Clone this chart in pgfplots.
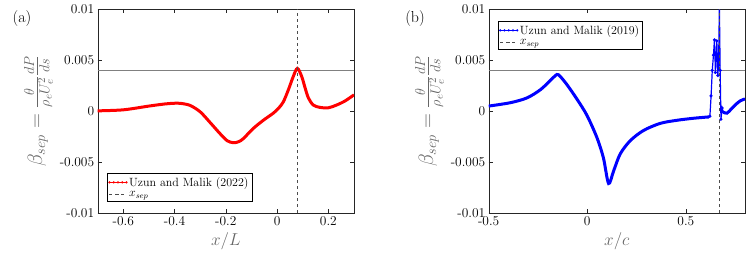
\documentclass[border=0pt]{standalone}
\usepackage{pgfplots}
\pgfplotsset{compat=1.18}
\usepackage{amsmath}
\begin{document}
\begin{tikzpicture}
\path[use as bounding box] (0,0) rectangle (747bp,255bp);
\pgfplotsset{
 myaxis/.style={
  scale only axis, width=256.3bp, height=203.7bp, anchor=south west,
  ymin=-0.01, ymax=0.01, scaled y ticks=false, scaled x ticks=false,
  ytick={-0.01,-0.005,0,0.005,0.01},
  yticklabels={-0.01,-0.005,0,0.005,0.01},
  tick align=inside,
  ticklabel style={font=\fontsize{13.5}{15}\selectfont},
  axis line style={black!85}, tick style={black!85},
  major tick length=4bp,
  xlabel style={font=\fontsize{16.5}{18}\selectfont, text=black!60},
  ylabel style={font=\fontsize{21}{22}\selectfont, text=black!60},
  ylabel={$\beta_{sep} = \frac{\theta}{\rho_e U_e^2}\frac{dP}{ds}$},
  legend style={font=\fontsize{12}{14}\selectfont, draw=black, line width=0.6bp, inner sep=1.5bp, row sep=0bp, cells={anchor=west}},
 },
}
\begin{axis}[myaxis, at={(97.7bp,42bp)},
  xmin=-0.7, xmax=0.3,
  xtick={-0.6,-0.4,-0.2,0,0.2}, xticklabels={-0.6,-0.4,-0.2,0,0.2},
  xlabel={$x/L$},
  legend style={at={(0.036,0.054)}, anchor=south west}]
\addplot[gray, line width=0.8bp, forget plot] coordinates {(-0.7,0.004) (0.3,0.004)};
\addplot[red, line width=3bp, smooth, tension=0.5,
  legend image code/.code={\draw[red, line width=0.8bp, mark=*, mark size=0.7bp] plot coordinates {(0cm,0cm) (0.15cm,0cm) (0.3cm,0cm) (0.45cm,0cm) (0.6cm,0cm)};}]
 coordinates {
 (-0.7,0.00003) (-0.6,0.00013) (-0.5,0.0005) (-0.44,0.0007) (-0.405,0.00077) (-0.379,0.00077)
 (-0.34,0.00057) (-0.30,-0.00007) (-0.262,-0.0011) (-0.223,-0.0022) (-0.195,-0.0029)
 (-0.171,-0.0031) (-0.150,-0.0030) (-0.132,-0.0027) (-0.093,-0.0017) (-0.054,-0.0009)
 (-0.015,-0.0002) (0.005,0.00027) (0.024,0.0009) (0.044,0.0021) (0.063,0.0034)
 (0.079,0.0042) (0.096,0.0034) (0.109,0.0023) (0.122,0.0013) (0.141,0.0006)
 (0.167,0.00037) (0.2,0.00033) (0.232,0.0006) (0.265,0.001) (0.3,0.0016)};
\addlegendentry{Uzun and Malik (2022)}
\addplot[black!70, dashed, line width=0.8bp] coordinates {(0.08,-0.01) (0.08,0.01)};
\addlegendentry{$x_{sep}$}
\end{axis}
\begin{axis}[myaxis, at={(488.7bp,42bp)},
  xmin=-0.5, xmax=0.8,
  xtick={-0.5,0,0.5}, xticklabels={-0.5,0,0.5},
  xlabel={$x/c$},
  legend style={at={(0.035,0.941)}, anchor=north west}]
\addplot[gray, line width=0.8bp, forget plot] coordinates {(-0.5,0.004) (0.8,0.004)};
\addplot[blue, line width=3bp, smooth, tension=0.5,
  legend image code/.code={\draw[blue, line width=0.8bp, mark=*, mark size=0.7bp] plot coordinates {(0cm,0cm) (0.15cm,0cm) (0.3cm,0cm) (0.45cm,0cm) (0.6cm,0cm)};}]
 coordinates {
 (-0.5,0.0005) (-0.39,0.00083) (-0.306,0.0013) (-0.238,0.0021) (-0.188,0.003) (-0.154,0.0036)
 (-0.137,0.0034) (-0.103,0.0026) (-0.053,0.0012) (-0.002,-0.0004) (0.049,-0.0026)
 (0.082,-0.0046) (0.108,-0.0071) (0.133,-0.0059) (0.167,-0.0042) (0.218,-0.0029)
 (0.285,-0.0019) (0.37,-0.0012) (0.454,-0.0009) (0.538,-0.0007) (0.614,-0.00057)};
\addlegendentry{Uzun and Malik (2019)}
\addplot[blue, line width=1.2bp, mark=*, mark size=0.9bp, forget plot] coordinates {
 (0.614,-0.00057) (0.622,-0.0005) (0.628,0.0015) (0.634,0.004) (0.64,0.0055) (0.645,0.007)
 (0.65,0.0038) (0.657,0.0069) (0.662,0.0035) (0.666,0.0045) (0.670,0.0105) (0.674,0.004)
 (0.678,-0.0008) (0.684,0.0003) (0.69,-0.0001)};
\addplot[blue, line width=3bp, smooth, tension=0.5, forget plot] coordinates {
 (0.69,-0.0001) (0.708,-0.0002) (0.73,0.0002) (0.75,0.0006) (0.775,0.001) (0.8,0.0012)};
\addplot[black!70, dashed, line width=0.8bp] coordinates {(0.67,-0.01) (0.67,0.01)};
\addlegendentry{$x_{sep}$}
\end{axis}
\node[font=\fontsize{16}{18}\selectfont] at (22bp,236bp) {(a)};
\node[font=\fontsize{16}{18}\selectfont] at (415bp,236bp) {(b)};
\end{tikzpicture}
\end{document}
